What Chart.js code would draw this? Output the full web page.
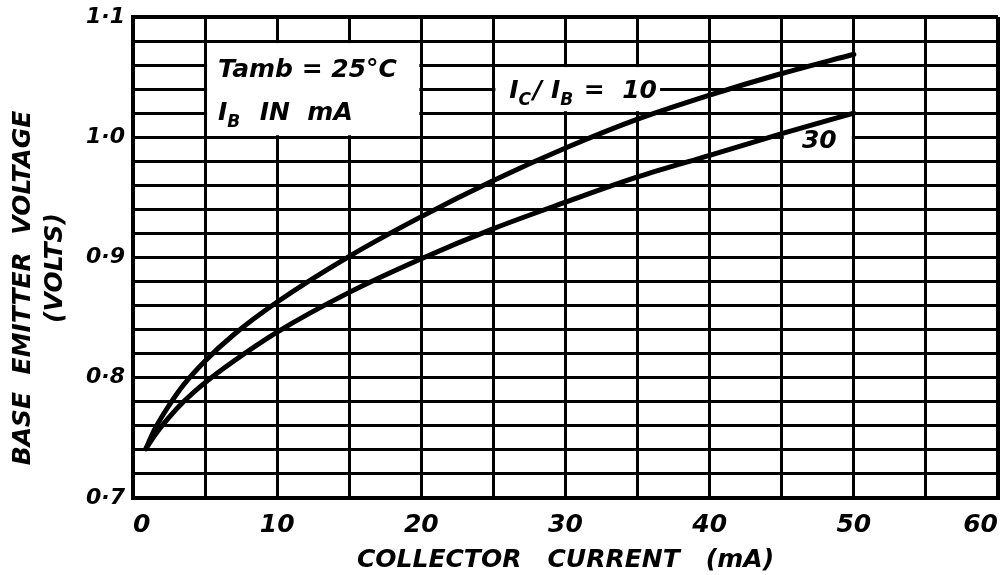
<!DOCTYPE html>
<html>
<head>
<meta charset="utf-8">
<title>Base emitter voltage vs collector current</title>
<script src="https://cdn.jsdelivr.net/npm/chart.js@4/dist/chart.umd.min.js"></script>
<style>
  html, body { margin: 0; padding: 0; background: #fff; }
  #wrap { width: 1007px; height: 575px; }
</style>
</head>
<body>
<div id="wrap"><canvas id="chart" width="1007" height="575"></canvas></div>
<script>
// V_BE against I_C for two forced current gains (Tamb = 25 °C)
const currentRatio10 = [0.9, 1.5, 2.5, 3.5, 5, 7, 10, 15, 20, 25, 30, 35, 40, 45, 50];   // mA
const vbeRatio10     = [0.741, 0.757, 0.777, 0.794, 0.814, 0.836, 0.863, 0.901, 0.934, 0.964, 0.991, 1.015, 1.035, 1.053, 1.069]; // V
const currentRatio30 = [0.9, 1.5, 2.5, 3.5, 5, 7, 10, 15, 20, 25, 30, 35, 40, 45, 50];   // mA
const vbeRatio30     = [0.741, 0.752, 0.767, 0.780, 0.796, 0.814, 0.838, 0.871, 0.899, 0.924, 0.946, 0.967, 0.985, 1.003, 1.020]; // V

const xTickValues = [0, 10, 20, 30, 40, 50, 60];
const yTickValues = [0.7, 0.8, 0.9, 1.0, 1.1];
const yTickLabels = ['0·7', '0·8', '0·9', '1·0', '1·1'];

const FAMILY = "'DejaVu Sans', 'Liberation Sans', sans-serif";
const INK = '#000';

function pairs(xs, ys) { return xs.map((x, i) => ({ x, y: ys[i] })); }

// white panels that clear the grid behind the lettering (data units)
const panels = [
  { x0: 5,    x1: 20,   y0: 1.00,  y1: 1.08 },
  { x0: 25,   x1: 36.7, y0: 1.02,  y1: 1.06 },
  { x0: 45,   x1: 50,   y0: 0.99,  y1: 1.011 }
];

// lettering, anchored in data units; runs marked sub are subscripts
const notes = [
  { x: 5.9,  y: 1.050,  runs: [{ t: 'Tamb = 25°C' }] },
  { x: 5.9,  y: 1.0145, runs: [{ t: 'I' }, { t: 'B', sub: true }, { t: '  IN  mA' }] },
  { x: 26.1, y: 1.033,  runs: [{ t: 'I' }, { t: 'C', sub: true }, { t: '/ I' }, { t: 'B', sub: true }, { t: ' =  10' }] },
  { x: 46.4, y: 0.991,  runs: [{ t: '30' }] }
];

function font(size) { return 'italic bold ' + size + 'px ' + FAMILY; }

const lettering = {
  id: 'lettering',
  beforeDatasetsDraw(chart) {
    const { ctx, scales: { x, y } } = chart;
    ctx.save();
    ctx.fillStyle = '#fff';
    for (const p of panels) {
      const l = x.getPixelForValue(p.x0) + 2, r = x.getPixelForValue(p.x1) - 2;
      const t = y.getPixelForValue(p.y1) + 2, b = y.getPixelForValue(p.y0) - 2;
      ctx.fillRect(l, t, r - l, b - t);
    }
    ctx.restore();
  },
  afterDatasetsDraw(chart) {
    const { ctx, scales: { x, y } } = chart;
    ctx.save();
    ctx.fillStyle = INK;
    ctx.textBaseline = 'alphabetic';
    ctx.textAlign = 'left';
    for (const n of notes) {
      let px = x.getPixelForValue(n.x);
      const py = y.getPixelForValue(n.y);
      for (const r of n.runs) {
        const size = r.sub ? 17 : 25;
        ctx.font = font(size);
        ctx.fillText(r.t, px, r.sub ? py + 7 : py);
        px += ctx.measureText(r.t).width + (r.sub ? 2 : 0);
      }
    }
    ctx.restore();
  },
  afterDraw(chart) {
    // vertical axis title, two lines reading upward
    const { ctx } = chart;
    const line = (text, cx, cy) => {
      ctx.save();
      ctx.fillStyle = INK;
      ctx.font = font(25);
      ctx.textAlign = 'center';
      ctx.textBaseline = 'middle';
      ctx.translate(cx, cy);
      ctx.rotate(-Math.PI / 2);
      ctx.fillText(text, 0, 0);
      ctx.restore();
    };
    line('BASE  EMITTER  VOLTAGE', 23, 288);
    line('(VOLTS)', 55, 268);
  }
};

const curve = (data) => ({
  data,
  borderColor: INK,
  borderWidth: 5,
  pointRadius: 0,
  fill: false,
  cubicInterpolationMode: 'monotone',
  borderCapStyle: 'round',
  borderJoinStyle: 'round'
});

new Chart(document.getElementById('chart'), {
  type: 'line',
  data: {
    datasets: [
      curve(pairs(currentRatio10, vbeRatio10)),
      curve(pairs(currentRatio30, vbeRatio30))
    ]
  },
  options: {
    responsive: false,
    animation: false,
    layout: { padding: { top: 17, right: 9, left: 0, bottom: 0 } },
    plugins: { legend: { display: false }, tooltip: { enabled: false } },
    scales: {
      x: {
        type: 'linear',
        min: 0, max: 60,
        ticks: {
          stepSize: 5,
          autoSkip: false,
          maxRotation: 0,
          align: 'inner',
          padding: 12,
          color: INK,
          font: { family: FAMILY, size: 25, style: 'italic', weight: 'bold' },
          callback: (v) => xTickValues.includes(v) ? String(v) : ''
        },
        grid: {
          color: INK,
          drawTicks: false,
          lineWidth: (c) => (c.tick && c.tick.value === 60) ? 4 : 3
        },
        border: { color: INK, width: 4 },
        title: {
          display: true,
          text: 'COLLECTOR   CURRENT   (mA)',
          color: INK,
          font: { family: FAMILY, size: 25, style: 'italic', weight: 'bold', lineHeight: 1 },
          padding: { top: 0, bottom: 2 }
        },
        afterFit: (s) => { s.height = 77; s.paddingLeft = 0; s.paddingRight = 0; }
      },
      y: {
        type: 'linear',
        min: 0.7, max: 1.1,
        ticks: {
          stepSize: 0.02,
          autoSkip: false,
          padding: 8,
          color: INK,
          font: { family: FAMILY, size: 22, style: 'italic', weight: 'bold' },
          callback: (v) => {
            const i = yTickValues.findIndex((t) => Math.abs(t - v) < 1e-6);
            return i >= 0 ? yTickLabels[i] : '';
          }
        },
        grid: {
          color: INK,
          drawTicks: false,
          lineWidth: (c) => (c.tick && Math.abs(c.tick.value - 1.1) < 1e-6) ? 4 : 3
        },
        border: { color: INK, width: 4 },
        afterFit: (s) => { s.width = 133; s.paddingTop = 0; s.paddingBottom = 0; }
      }
    }
  },
  plugins: [lettering]
});
</script>
</body>
</html>
